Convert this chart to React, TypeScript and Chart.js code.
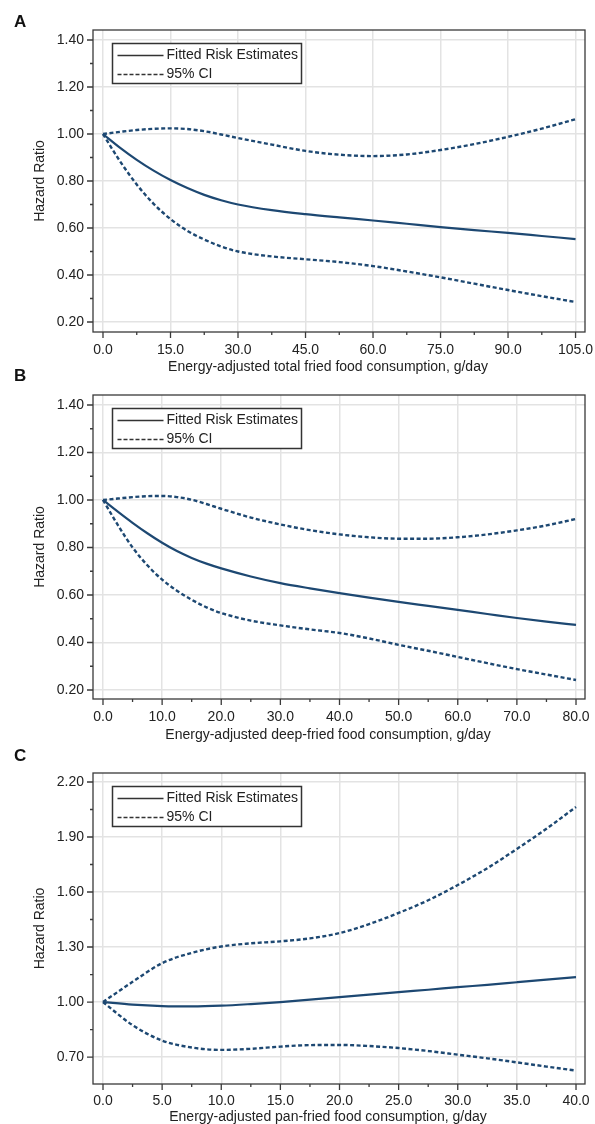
import React, { useEffect, useRef } from "react";
import { Chart, registerables } from "chart.js";

Chart.register(...registerables);

const FONT = '"Liberation Sans", Arial, Helvetica, sans-serif';
const NAVY = "#1d4872";
const TEXT = "#222222";
const FRAME = "#3a3a3a";
const GRID = "#e3e3e3";

// ---------- Panel A: total fried food ----------
const xA = [0, 3.75, 7.5, 11.25, 15, 18.75, 22.5, 26.25, 30, 37.5, 45, 52.5, 60, 67.5, 75, 82.5, 90, 97.5, 105];
const fittedA = [1.0, 0.942, 0.89, 0.844, 0.804, 0.77, 0.741, 0.718, 0.7, 0.676, 0.659, 0.645, 0.632, 0.618, 0.604, 0.591, 0.579, 0.566, 0.553];
const upperA = [1.0, 1.009, 1.017, 1.022, 1.024, 1.021, 1.012, 0.998, 0.983, 0.955, 0.928, 0.912, 0.906, 0.913, 0.932, 0.957, 0.988, 1.023, 1.063];
const lowerA = [1.0, 0.885, 0.785, 0.703, 0.638, 0.588, 0.551, 0.521, 0.5, 0.479, 0.467, 0.455, 0.438, 0.415, 0.39, 0.363, 0.336, 0.31, 0.285];
const xMajorA = [0, 15, 30, 45, 60, 75, 90, 105];
const xMinorA = [7.5, 22.5, 37.5, 52.5, 67.5, 82.5, 97.5];
const yMajorAB = [0.2, 0.4, 0.6, 0.8, 1.0, 1.2, 1.4];
const yMinorAB = [0.3, 0.5, 0.7, 0.9, 1.1, 1.3];

// ---------- Panel B: deep-fried food ----------
const xB = [0, 2.5, 5, 7.5, 10, 12.5, 15, 17.5, 20, 25, 30, 35, 40, 45, 50, 55, 60, 65, 70, 75, 80];
const fittedB = [1.0, 0.951, 0.904, 0.86, 0.82, 0.785, 0.756, 0.732, 0.712, 0.678, 0.65, 0.628, 0.608, 0.589, 0.571, 0.554, 0.537, 0.52, 0.503, 0.488, 0.474];
const upperB = [1.0, 1.006, 1.012, 1.016, 1.017, 1.012, 1.001, 0.983, 0.963, 0.926, 0.897, 0.873, 0.855, 0.843, 0.837, 0.837, 0.843, 0.855, 0.872, 0.893, 0.92];
const lowerB = [1.0, 0.895, 0.8, 0.725, 0.665, 0.618, 0.58, 0.548, 0.524, 0.492, 0.472, 0.455, 0.44, 0.417, 0.39, 0.365, 0.339, 0.313, 0.288, 0.265, 0.242];
const xMajorB = [0, 10, 20, 30, 40, 50, 60, 70, 80];
const xMinorB = [5, 15, 25, 35, 45, 55, 65, 75];

// ---------- Panel C: pan-fried food ----------
const xC = [0, 2.5, 5, 7.5, 10, 12.5, 15, 17.5, 20, 22.5, 25, 27.5, 30, 32.5, 35, 37.5, 40];
const fittedC = [1.0, 0.986, 0.978, 0.976, 0.98, 0.989, 1.0, 1.013, 1.027, 1.04, 1.054, 1.067, 1.081, 1.094, 1.108, 1.122, 1.136];
const upperC = [1.0, 1.11, 1.212, 1.268, 1.303, 1.32, 1.331, 1.347, 1.376, 1.425, 1.486, 1.555, 1.638, 1.73, 1.835, 1.945, 2.064];
const lowerC = [1.0, 0.874, 0.79, 0.752, 0.739, 0.745, 0.757, 0.765, 0.766, 0.76, 0.749, 0.733, 0.713, 0.693, 0.671, 0.648, 0.626];
const xMajorC = [0, 5, 10, 15, 20, 25, 30, 35, 40];
const xMinorC = [2.5, 7.5, 12.5, 17.5, 22.5, 27.5, 32.5, 37.5];
const yMajorC = [0.7, 1.0, 1.3, 1.6, 1.9, 2.2];
const yMinorC = [0.85, 1.15, 1.45, 1.75, 2.05];

const legendLabels = ["Fitted Risk Estimates", "95% CI"];
const yTitle = "Hazard Ratio";
const panelLetters = ["A", "B", "C"];
const xTitles = [
  "Energy-adjusted total fried food consumption, g/day",
  "Energy-adjusted deep-fried food consumption, g/day",
  "Energy-adjusted pan-fried food consumption, g/day",
];

type Spec = {
  letter: string;
  top: number;
  h: number;
  plotTop: number;
  plotBottom: number;
  xTitleY: number;
  xPad: number;
  letterBase: number;
  xs: number[];
  fitted: number[];
  upper: number[];
  lower: number[];
  xMajor: number[];
  xMinor: number[];
  yMajor: number[];
  yMinor: number[];
  xMin: number;
  xMax: number;
  yMin: number;
  yMax: number;
  xTitle: string;
};

const specs: Spec[] = [
  {
    letter: panelLetters[0], top: 0, h: 380, plotTop: 30, plotBottom: 332, xTitleY: 367, xPad: 10, letterBase: 27,
    xs: xA, fitted: fittedA, upper: upperA, lower: lowerA,
    xMajor: xMajorA, xMinor: xMinorA, yMajor: yMajorAB, yMinor: yMinorAB,
    xMin: -2.22, xMax: 107.1, yMin: 0.1574, yMax: 1.4426, xTitle: xTitles[0],
  },
  {
    letter: panelLetters[1], top: 380, h: 365, plotTop: 395, plotBottom: 699, xTitleY: 735, xPad: 10, letterBase: 381,
    xs: xB, fitted: fittedB, upper: upperB, lower: lowerB,
    xMajor: xMajorB, xMinor: xMinorB, yMajor: yMajorAB, yMinor: yMinorAB,
    xMin: -1.69, xMax: 81.52, yMin: 0.162, yMax: 1.442, xTitle: xTitles[1],
  },
  {
    letter: panelLetters[2], top: 745, h: 379, plotTop: 773, plotBottom: 1084, xTitleY: 1117, xPad: 9, letterBase: 761,
    xs: xC, fitted: fittedC, upper: upperC, lower: lowerC,
    xMajor: xMajorC, xMinor: xMinorC, yMajor: yMajorC, yMinor: yMinorC,
    xMin: -0.846, xMax: 40.76, yMin: 0.553, yMax: 2.249, xTitle: xTitles[2],
  },
];

function pts(xs: number[], ys: number[]) {
  return xs.map((x, i) => ({ x, y: ys[i] }));
}

function makeDecor(spec: Spec) {
  return {
    id: "decor" + spec.letter,
    afterDraw(chart: any) {
      const { ctx, chartArea: ca, scales } = chart;
      const sx = scales.x;
      const sy = scales.y;
      ctx.save();
      // frame
      ctx.strokeStyle = FRAME;
      ctx.lineWidth = 1.3;
      ctx.setLineDash([]);
      ctx.strokeRect(ca.left, ca.top, ca.right - ca.left, ca.bottom - ca.top);
      // ticks
      ctx.beginPath();
      spec.xMajor.forEach((v) => {
        const p = sx.getPixelForValue(v);
        ctx.moveTo(p, ca.bottom);
        ctx.lineTo(p, ca.bottom + 6);
      });
      spec.xMinor.forEach((v) => {
        const p = sx.getPixelForValue(v);
        ctx.moveTo(p, ca.bottom);
        ctx.lineTo(p, ca.bottom + 3);
      });
      spec.yMajor.forEach((v) => {
        const p = sy.getPixelForValue(v);
        ctx.moveTo(ca.left, p);
        ctx.lineTo(ca.left - 6, p);
      });
      spec.yMinor.forEach((v) => {
        const p = sy.getPixelForValue(v);
        ctx.moveTo(ca.left, p);
        ctx.lineTo(ca.left - 3, p);
      });
      ctx.stroke();

      // legend
      const lx = ca.left + 19.5;
      const ly = ca.top + 13.5;
      const lw = 189;
      const lh = 40;
      ctx.fillStyle = "#ffffff";
      ctx.fillRect(lx, ly, lw, lh);
      ctx.strokeStyle = "#333333";
      ctx.lineWidth = 1.5;
      ctx.strokeRect(lx, ly, lw, lh);
      ctx.font = "14px " + FONT;
      ctx.textBaseline = "middle";
      ctx.textAlign = "left";
      ctx.fillStyle = TEXT;
      const rows = [ly + 12, ly + 31];
      ctx.lineWidth = 1.4;
      ctx.strokeStyle = "#333333";
      ctx.beginPath();
      ctx.moveTo(lx + 5, rows[0]);
      ctx.lineTo(lx + 51, rows[0]);
      ctx.stroke();
      ctx.setLineDash([4, 2]);
      ctx.beginPath();
      ctx.moveTo(lx + 5, rows[1]);
      ctx.lineTo(lx + 51, rows[1]);
      ctx.stroke();
      ctx.setLineDash([]);
      ctx.fillText(legendLabels[0], lx + 54, rows[0]);
      ctx.fillText(legendLabels[1], lx + 54, rows[1]);

      // x title
      ctx.textAlign = "center";
      ctx.fillText(spec.xTitle, 328, spec.xTitleY - spec.top);
      ctx.restore();
    },
  };
}

function makeConfig(spec: Spec): any {
  const solid = {
    label: legendLabels[0],
    data: pts(spec.xs, spec.fitted),
    borderColor: NAVY,
    borderWidth: 2.2,
    pointRadius: 0,
    fill: false,
    cubicInterpolationMode: "monotone",
  };
  const dashed = (ys: number[], lbl: string) => ({
    label: lbl,
    data: pts(spec.xs, ys),
    borderColor: NAVY,
    borderWidth: 2.4,
    borderDash: [4, 2.5],
    pointRadius: 0,
    fill: false,
    cubicInterpolationMode: "monotone",
  });
  return {
    type: "line",
    data: {
      datasets: [dashed(spec.upper, legendLabels[1]), dashed(spec.lower, legendLabels[1]), solid],
    },
    options: {
      responsive: false,
      animation: false,
      events: [],
      layout: {
        padding: { top: spec.plotTop - spec.top, right: 10, left: 0, bottom: 0 },
      },
      plugins: {
        legend: { display: false },
        tooltip: { enabled: false },
      },
      scales: {
        x: {
          type: "linear",
          min: spec.xMin,
          max: spec.xMax,
          afterBuildTicks: (scale: any) => {
            scale.ticks = spec.xMajor.map((v) => ({ value: v }));
          },
          afterFit: (scale: any) => {
            scale.height = spec.h - (spec.plotBottom - spec.top);
            scale.paddingLeft = 0;
            scale.paddingRight = 0;
          },
          grid: { color: GRID, lineWidth: 1.5, drawTicks: false },
          border: { display: false },
          ticks: {
            autoSkip: false,
            maxRotation: 0,
            padding: spec.xPad,
            color: TEXT,
            font: { family: FONT, size: 14 },
            callback: (v: any) => Number(v).toFixed(1),
          },
        },
        y: {
          type: "linear",
          min: spec.yMin,
          max: spec.yMax,
          afterBuildTicks: (scale: any) => {
            scale.ticks = spec.yMajor.map((v) => ({ value: v }));
          },
          afterFit: (scale: any) => {
            scale.width = 93;
            scale.paddingTop = 0;
            scale.paddingBottom = 0;
          },
          grid: { color: GRID, lineWidth: 1.5, drawTicks: false },
          border: { display: false },
          title: {
            display: true,
            text: yTitle,
            color: TEXT,
            font: { family: FONT, size: 14 },
            padding: { top: 31.6, bottom: 0 },
          },
          ticks: {
            autoSkip: false,
            padding: 9,
            color: TEXT,
            font: { family: FONT, size: 14 },
            callback: (v: any) => Number(v).toFixed(2),
          },
        },
      },
    },
    plugins: [makeDecor(spec)],
  };
}

function Panel({ spec }: { spec: Spec }) {
  const ref = useRef<HTMLCanvasElement>(null);
  useEffect(() => {
    const chart = new Chart(ref.current as HTMLCanvasElement, makeConfig(spec));
    return () => chart.destroy();
  }, [spec]);
  return (
    <>
      <canvas
        ref={ref}
        width={595}
        height={spec.h}
        style={{ position: "absolute", left: 0, top: spec.top, width: 595, height: spec.h }}
      />
      <div
        style={{
          position: "absolute",
          left: 14,
          top: spec.letterBase - 14.4,
          fontFamily: FONT,
          fontWeight: "bold",
          fontSize: 17,
          lineHeight: "17px",
          color: "#111",
        }}
      >
        {spec.letter}
      </div>
    </>
  );
}

export default function App() {
  return (
    <div
      style={{
        position: "absolute",
        left: 0,
        top: 0,
        width: 595,
        height: 1124,
        background: "#ffffff",
        overflow: "hidden",
      }}
    >
      {specs.map((s) => (
        <Panel key={s.letter} spec={s} />
      ))}
    </div>
  );
}
